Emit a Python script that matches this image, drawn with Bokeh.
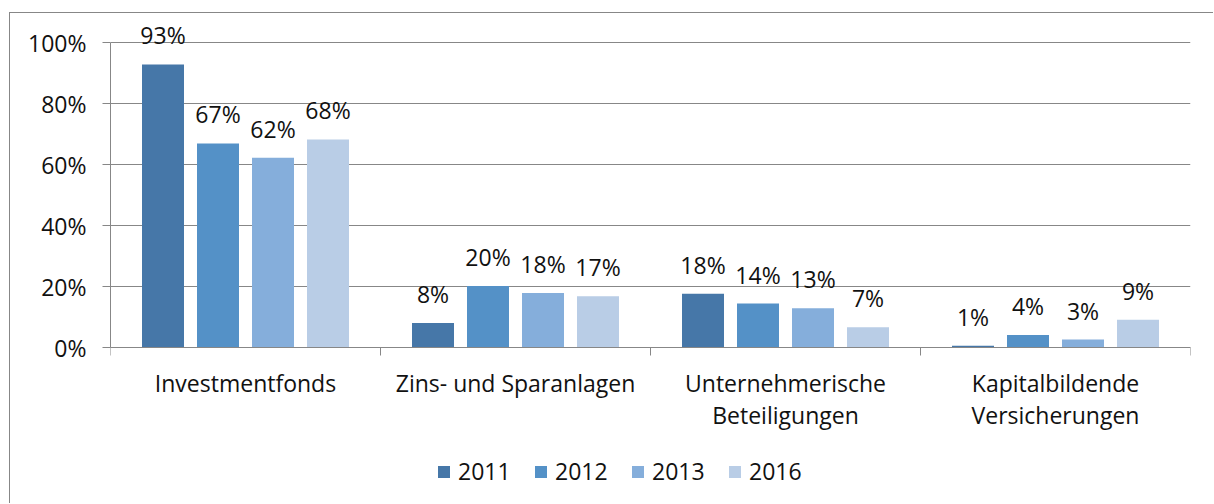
from bokeh.plotting import figure
from bokeh.models import (Range1d, FixedTicker, NumeralTickFormatter, Legend, LegendItem,
                          ColumnDataSource)
from bokeh.core.properties import value
from bokeh.embed import file_html
from bokeh.resources import INLINE

categories = ["Investmentfonds", "Zins- und Sparanlagen",
              "Unternehmerische\nBeteiligungen", "Kapitalbildende\nVersicherungen"]
years = ["2011", "2012", "2013", "2016"]
v2011 = [92.8, 8.0, 17.6, 0.6]
v2012 = [66.9, 20.2, 14.4, 4.1]
v2013 = [62.2, 17.9, 12.9, 2.6]
v2016 = [68.2, 16.8, 6.6, 9.1]
series = [v2011, v2012, v2013, v2016]
colors = ["#4677A8", "#5491C7", "#85AEDB", "#B9CDE6"]
y_ticks = [0, 0.2, 0.4, 0.6, 0.8, 1.0]

FONT = "Open Sans"
FS = "23px"
GRAY = "#878787"
TXT = "#111111"

W, H = 1204, 491
PX = 305.0  # pixels per 100 %
p = figure(width=W, height=H, output_backend="svg", toolbar_location=None,
           x_range=Range1d(0, 4), y_range=Range1d(-157 / PX, 334 / PX),
           min_border_left=100, min_border_right=24, min_border_top=0,
           min_border_bottom=0)
p.outline_line_color = None
p.background_fill_color = "white"
p.border_fill_color = "white"
p.styles = {"margin-left": "9px", "margin-top": "12px",
            "border-left": f"1px solid {GRAY}", "border-top": f"1px solid {GRAY}"}

step = 55 / 270
width = 42 / 270
items = []
for j, (yr, vals, col) in enumerate(zip(years, series, colors)):
    xs = [i + 0.5 + (j - 1.5) * step for i in range(len(categories))]
    ys = [v / 100 for v in vals]
    labels = [f"{round(v)}%" for v in vals]
    src = ColumnDataSource(dict(x=xs, top=ys, label=labels))
    r = p.vbar(x="x", top="top", width=width, source=src, fill_color=col,
               line_color=None)
    p.text(x="x", y="top", text="label", source=src, text_align="center",
           text_baseline="alphabetic", y_offset=-29, text_font=value(FONT),
           text_font_size=FS, text_color=TXT)
    items.append(LegendItem(label=yr, renderers=[r]))

# y axis
yax = p.yaxis[0]
yax.ticker = FixedTicker(ticks=y_ticks)
yax.formatter = NumeralTickFormatter(format="0%")
yax.bounds = (0, 1)
yax.axis_line_color = GRAY
yax.major_tick_line_color = GRAY
yax.major_tick_in = 0
yax.major_tick_out = 8
yax.minor_tick_line_color = None
yax.major_label_text_font = FONT
yax.major_label_text_font_size = FS
yax.major_label_text_color = TXT
yax.major_label_standoff = 16

p.ygrid.ticker = FixedTicker(ticks=y_ticks)
p.ygrid.grid_line_color = GRAY
p.ygrid.grid_line_width = 1
p.xgrid.grid_line_color = None

# x axis, drawn at 0 %
xax = p.xaxis[0]
xax.fixed_location = 0
centers = [i + 0.5 for i in range(len(categories))]
bounds_ticks = list(range(len(categories) + 1))
xax.ticker = FixedTicker(ticks=centers, minor_ticks=bounds_ticks)
xax.major_label_overrides = {c: name for c, name in zip(centers, categories)}
xax.axis_line_color = GRAY
xax.major_tick_line_color = None
xax.major_tick_out = 0
xax.major_tick_in = 0
xax.minor_tick_line_color = GRAY
xax.minor_tick_in = 0
xax.minor_tick_out = 8
xax.major_label_text_font = FONT
xax.major_label_text_font_size = FS
xax.major_label_text_color = TXT
xax.major_label_text_line_height = 1.02
xax.major_label_standoff = 11

legend = Legend(items=items, orientation="horizontal", location=(326, 17),
                glyph_width=15, glyph_height=15, label_standoff=7,
                label_width=75, label_height=15, spacing=0, padding=0, margin=0,
                label_text_font=FONT, label_text_font_size=FS,
                label_text_color=TXT, border_line_color=None,
                background_fill_alpha=0)
p.add_layout(legend, "center")

open("out.html", "w").write(file_html(p, INLINE))
